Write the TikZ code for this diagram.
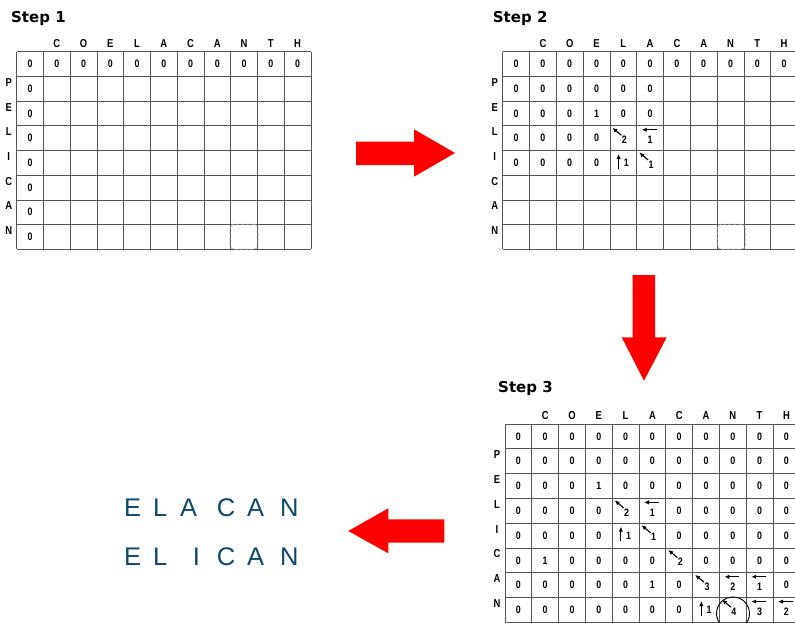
\documentclass[tikz,border=0pt]{standalone}
\usepackage{fontspec}
\usetikzlibrary{arrows.meta}
\newfontfamily\cellfont[FakeStretch=0.82]{Liberation Sans}
\newfontfamily\headfont{DejaVu Sans}
\newfontfamily\wordfont{Liberation Sans}
\definecolor{arrred}{RGB}{255,0,0}
\definecolor{wordblue}{RGB}{14,72,110}
\definecolor{gridgray}{RGB}{85,85,85}
\tikzset{
  gridline/.style={draw=gridgray, line width=0.8pt},
  celltext/.style={font=\cellfont\bfseries\fontsize{10.8}{10.8}\selectfont, inner sep=0pt},
  lbltext/.style={font=\cellfont\bfseries\fontsize{11.5}{11.5}\selectfont, inner sep=0pt},
  steptitle/.style={font=\headfont\bfseries\fontsize{15}{15}\selectfont, inner sep=0pt, anchor=base west},
  ptr/.style={-{Latex[length=5pt,width=4.4pt]}, line width=1.1pt},
  bigarrow/.style={fill=arrred, draw=none},
  word/.style={font=\wordfont\fontsize{25.5}{25.5}\selectfont, text=wordblue, inner sep=0pt, anchor=base west},
  ghostbox/.style={draw=gray!70, dash pattern=on 3pt off 2pt, rounded corners=4pt, line width=0.7pt},
}
% grid helpers
\newcommand\lcsgrid[1]{%
  \foreach \i in {0,...,11} \draw[gridline] ({\gX+\i*\cw},\gY) -- ({\gX+\i*\cw},{\gY+8*\ch});
  \foreach \j in {0,...,8} \draw[gridline] (\gX,{\gY+\j*\ch}) -- ({\gX+11*\cw},{\gY+\j*\ch});
  \foreach \L [count=\k] in {C,O,E,L,A,C,A,N,T,H}
    \node[lbltext] (#1-h\k) at ({\gX+(\k+0.5)*\cw},{\gY-8.5}) {\L};
  \foreach \L [count=\k] in {P,E,L,I,C,A,N}
    \node[lbltext] (#1-l\k) at ({\gX-8},{\gY+\k*\ch+6}) {\L};
}
\newcommand\digits[2]{%
  \foreach \row [count=\r from 0] in {#2} {
    \foreach \v [count=\c from 0] in \row {
      \if\v-\else
        \node[celltext] (#1-\r-\c) at ({\gX+(\c+0.5)*\cw},{\gY+(\r+0.5)*\ch}) {\v};
      \fi
    }
  }
}
\newcommand\dgcell[4]{%
  \coordinate (#1) at ({\gX+#3*\cw},{\gY+#2*\ch});
  \coordinate (#1-a) at ([shift={(11.5,9.5)}]#1);
  \coordinate (#1-b) at ([shift={(2.5,2)}]#1);
  \draw[ptr] (#1-a) -- (#1-b);
  \node[celltext] (#1-n) at ([shift={(14.5,14)}]#1) {#4};
}
\newcommand\ltcell[4]{%
  \coordinate (#1) at ({\gX+#3*\cw},{\gY+#2*\ch});
  \coordinate (#1-a) at ([shift={(20,4)}]#1);
  \coordinate (#1-b) at ([shift={(5,4)}]#1);
  \draw[ptr] (#1-a) -- (#1-b);
  \node[celltext] (#1-n) at ([shift={(13.4,14.3)}]#1) {#4};
}
\newcommand\upcell[4]{%
  \coordinate (#1) at ({\gX+#3*\cw},{\gY+#2*\ch});
  \coordinate (#1-a) at ([shift={(8.7,18)}]#1);
  \coordinate (#1-b) at ([shift={(8.7,3.5)}]#1);
  \draw[ptr] (#1-a) -- (#1-b);
  \node[celltext] (#1-n) at ([shift={(16.5,12.5)}]#1) {#4};
}
\begin{document}
\begin{tikzpicture}[x=1pt,y=-1pt]
\clip (0,0) rectangle (795,623);
\fill[white] (0,0) rectangle (795,623);

% ---------------- Step 1 ----------------
\node[steptitle] (t1) at (11,22.3) {Step 1};
\def\gX{16.7}\def\gY{51.7}\def\cw{26.75}\def\ch{24.7}
\lcsgrid{s1}
\digits{s1}{{0,0,0,0,0,0,0,0,0,0,0},{0},{0},{0},{0},{0},{0},{0}}
\node[ghostbox, minimum width=28pt, minimum height=25pt, inner sep=0pt] (g1) at (244,236.7) {};

% ---------------- Step 2 ----------------
\node[steptitle] (t2) at (492.7,22.5) {Step 2};
\def\gX{502.7}\def\gY{51.7}\def\cw{26.8}\def\ch{24.7}
\lcsgrid{s2}
\digits{s2}{{0,0,0,0,0,0,0,0,0,0,0},{0,0,0,0,0,0},{0,0,0,1,0,0},{0,0,0,0},{0,0,0,0}}
\dgcell{s2-d34}{3}{4}{2}
\ltcell{s2-d35}{3}{5}{1}
\upcell{s2-d44}{4}{4}{1}
\dgcell{s2-d45}{4}{5}{1}
\node[ghostbox, minimum width=28pt, minimum height=25pt, inner sep=0pt] (g2) at (731.2,236.7) {};

% ---------------- Step 3 ----------------
\node[steptitle] (t3) at (498,392.7) {Step 3};
\def\gX{505}\def\gY{424}\def\cw{26.8}\def\ch{24.8}
\lcsgrid{s3}
\digits{s3}{{0,0,0,0,0,0,0,0,0,0,0},{0,0,0,0,0,0,0,0,0,0,0},{0,0,0,1,0,0,0,0,0,0,0},{0,0,0,0,-,-,0,0,0,0,0},{0,0,0,0,-,-,0,0,0,0,0},{0,1,0,0,0,0,-,0,0,0,0},{0,0,0,0,0,1,0,-,-,-,0},{0,0,0,0,0,0,0,-,-,-,-}}
\dgcell{s3-d34}{3}{4}{2}
\ltcell{s3-d35}{3}{5}{1}
\upcell{s3-d44}{4}{4}{1}
\dgcell{s3-d45}{4}{5}{1}
\dgcell{s3-d56}{5}{6}{2}
\dgcell{s3-d67}{6}{7}{3}
\ltcell{s3-d68}{6}{8}{2}
\ltcell{s3-d69}{6}{9}{1}
\upcell{s3-d77}{7}{7}{1}
\dgcell{s3-d78}{7}{8}{4}
\ltcell{s3-d79}{7}{9}{3}
\ltcell{s3-d710}{7}{10}{2}
\node[draw, circle, line width=0.9pt, minimum size=33pt, inner sep=0pt] (hit) at (733,613.5) {};

% ---------------- red arrows ----------------
\fill[bigarrow] (356,141.7) -- (414,141.7) -- (414,129.3) -- (455,153) -- (414,176.7) -- (414,165) -- (356,165) -- cycle;
\fill[bigarrow] (632.7,275) -- (655,275) -- (655,337.3) -- (666.7,337.3) -- (644,380.7) -- (621.7,337.3) -- (632.7,337.3) -- cycle;
\fill[bigarrow] (444.3,519.3) -- (388.3,519.3) -- (388.3,508.3) -- (348.3,531) -- (388.3,553.3) -- (388.3,542.7) -- (444.3,542.7) -- cycle;

% ---------------- words ----------------
\foreach \L/\x [count=\k] in {E/124,L/153,A/180,C/216.7,A/247,N/280}
  \node[word] (w1-\k) at (\x,516.7) {\L};
\foreach \L/\x [count=\k] in {E/124,L/153,I/192.6,C/216.7,A/247,N/280}
  \node[word] (w2-\k) at (\x,565) {\L};
\end{tikzpicture}
\end{document}
